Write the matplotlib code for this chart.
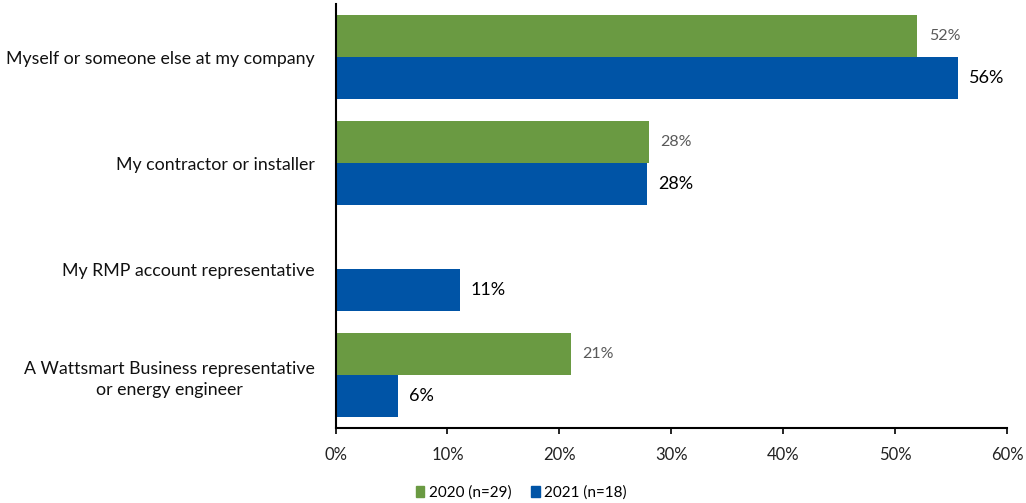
import numpy as np
import matplotlib.pyplot as plt
from matplotlib.patches import Patch

plt.rcParams['font.family'] = ['Lato', 'DejaVu Sans']

# Categories, top to bottom
categories = ['Myself or someone else at my company',
              'My contractor or installer',
              'My RMP account representative',
              'A Wattsmart Business representative\nor energy engineer']

# Share of respondents (%), nan = no bar
values_2020 = [52.0, 28.0, np.nan, 21.0]
values_2021 = [55.6, 27.8, 11.1, 5.6]

series_names = ['2020 (n=29)', '2021 (n=18)']
GREEN = '#6A9A42'
BLUE = '#0054A6'

fig = plt.figure(figsize=(10.26, 5.03), dpi=100)
ax = fig.add_axes([0.327, 0.149, 0.6545, 0.843])

y = np.arange(len(categories))
h = 0.396

ax.barh(y - h / 2, values_2020, height=h, color=GREEN)
ax.barh(y + h / 2, values_2021, height=h, color=BLUE)

# Data labels
for yi, v in zip(y, values_2020):
    if not np.isnan(v):
        ax.text(v + 1.0, yi - h / 2, f'{v:.0f}%', va='center', ha='left',
                fontsize=11.5, color='#595959')
for yi, v in zip(y, values_2021):
    ax.text(v + 1.0, yi + h / 2, f'{v:.0f}%', va='center', ha='left',
            fontsize=13, color='black')

ax.set_xlim(0, 60)
ax.set_ylim(len(categories) - 0.5, -0.5)
ax.set_xticks(range(0, 61, 10))
ax.set_xticklabels([f'{t}%' for t in range(0, 61, 10)], fontsize=12, color='#222222')
ax.set_yticks(y)
ax.set_yticklabels(categories, fontsize=12.8, ha='right', multialignment='center',
                   color='#111111', linespacing=1.45)
ax.tick_params(axis='y', length=0, pad=15)
ax.tick_params(axis='x', direction='out', length=4.3, width=1.2, pad=9)

for s in ['top', 'right']:
    ax.spines[s].set_visible(False)
ax.spines['left'].set_linewidth(1.5)
ax.spines['bottom'].set_linewidth(1.5)

handles = [Patch(color=GREEN), Patch(color=BLUE)]
fig.legend(handles, series_names, loc='center', ncol=2, frameon=False,
           fontsize=11, handlelength=0.55, handleheight=0.75, handletextpad=0.3,
           columnspacing=1.3, bbox_to_anchor=(0.508, 0.02))

fig.savefig('out.png', dpi=100)
